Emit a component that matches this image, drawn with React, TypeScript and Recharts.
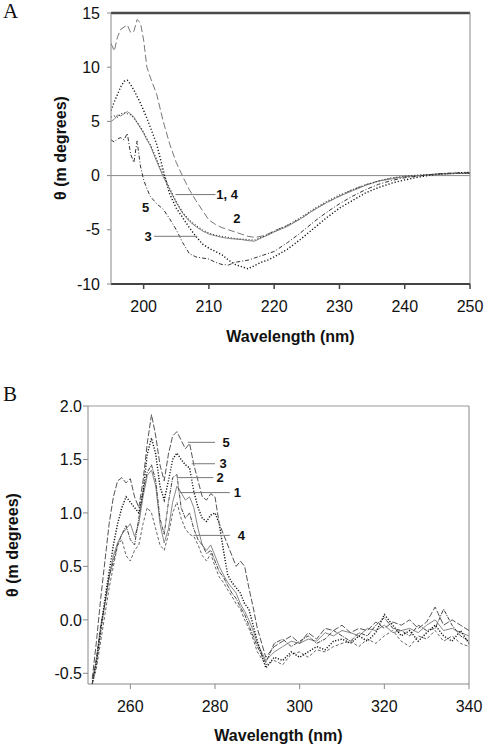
import React from 'react';
import { LineChart, Line, XAxis, YAxis, ReferenceLine, ReferenceDot, Label } from 'recharts';

// Panel A: far-UV CD spectra
const aWavelength = [
  195, 195.5, 196, 196.5, 197, 197.5, 198, 198.5, 199, 199.5, 200, 200.5, 201,
  202, 203, 204, 205, 206, 207, 208, 209, 210, 211, 212, 213, 214, 215, 216, 217, 218, 219, 220,
  222, 224, 226, 228, 230, 232, 234, 236, 238, 240, 242, 244, 246, 248, 250,
];
const aCurve1 = [
  5.0, 5.2, 5.6, 5.5, 5.7, 5.9, 5.7, 5.4, 4.9, 4.4, 3.9, 3.3, 2.8,
  1.3, -0.1, -1.3, -2.5, -3.5, -4.2, -4.7, -5.1, -5.4, -5.55, -5.7, -5.8, -5.85, -5.9, -6.0, -6.05, -5.75, -5.5, -5.2,
  -4.7, -4.0, -3.2, -2.5, -1.9, -1.4, -0.9, -0.5, -0.3, -0.1, 0.0, 0.1, 0.15, 0.2, 0.2,
];
const aCurve2 = [
  12.2, 11.5, 12.8, 13.5, 13.7, 13.9, 13.2, 13.3, 14.4, 14.1, 12.5, 10.0, 9.1,
  7.5, 5.0, 2.9, 1.2, -0.1, -1.3, -2.3, -3.2, -4.1, -4.5, -4.8, -5.0, -5.2, -5.4, -5.6, -5.7, -5.6, -5.4, -5.1,
  -4.6, -4.0, -3.2, -2.5, -1.9, -1.3, -0.85, -0.5, -0.25, -0.1, 0.0, 0.1, 0.2, 0.2, 0.25,
];
const aCurve3 = [
  6.0, 6.8, 7.5, 8.2, 8.7, 8.8, 8.4, 7.9, 7.3, 6.7, 6.0, 5.3, 4.5,
  2.9, 0.5, -1.7, -3.0, -3.9, -4.8, -5.6, -6.3, -6.7, -7.0, -7.3, -7.8, -8.2, -8.4, -8.6, -8.3, -8.0, -7.8, -7.5,
  -6.8, -5.9, -4.9, -3.9, -3.0, -2.3, -1.6, -1.1, -0.7, -0.4, -0.15, 0.05, 0.15, 0.25, 0.3,
];
const aCurve4 = [
  5.4, 5.5, 5.4, 5.7, 5.8, 5.7, 5.6, 5.3, 4.9, 4.5, 4.0, 3.4, 2.9,
  1.5, 0.1, -1.2, -2.4, -3.4, -4.1, -4.6, -5.0, -5.3, -5.5, -5.6, -5.7, -5.8, -5.85, -5.9, -5.95, -5.7, -5.45, -5.15,
  -4.6, -3.9, -3.1, -2.4, -1.8, -1.3, -0.85, -0.5, -0.2, -0.05, 0.05, 0.1, 0.15, 0.2, 0.2,
];
const aCurve5 = [
  3.3, 3.1, 3.4, 3.5, 3.3, 3.9, 2.0, 1.2, 3.2, 0.9, -0.4, -1.2, -1.9,
  -2.6, -3.1, -4.0, -5.0, -6.2, -7.2, -7.5, -7.6, -7.7, -8.0, -8.2, -8.25, -8.0, -7.9, -7.8, -7.6, -7.4, -7.2, -7.0,
  -6.2, -5.3, -4.3, -3.4, -2.6, -1.9, -1.3, -0.8, -0.45, -0.2, -0.05, 0.1, 0.2, 0.25, 0.25,
];
const aXTicks = [200, 210, 220, 230, 240, 250];
const aYTicks = [-10, -5, 0, 5, 10, 15];

// Panel B: near-UV CD spectra
const bWavelength = [
  251, 252, 253, 254, 255, 256, 257, 258, 259, 260, 261, 262, 263, 264, 265, 266, 267, 268, 269, 270,
  271, 272, 273, 274, 275, 276, 277, 278, 279, 280, 281, 282, 283, 284, 285, 286, 287, 288, 289, 290,
  292, 294, 296, 298, 300, 302, 304, 306, 308, 310, 312, 314, 316, 318, 320, 322, 324, 326, 328, 330,
  332, 334, 336, 338, 340,
];
const bCurve1 = [
  -0.55, -0.4, -0.1, 0.15, 0.4, 0.6, 0.72, 0.8, 0.85, 0.9, 0.78, 0.9, 1.15, 1.35, 1.4, 1.25, 0.9, 0.72, 0.85, 1.1,
  1.25, 1.19, 1.12, 1.15, 1.05, 0.85, 0.7, 0.65, 0.7, 0.6, 0.5, 0.42, 0.35, 0.3, 0.25, 0.15, 0.08, 0.0, -0.1, -0.22,
  -0.38, -0.3, -0.25, -0.2, -0.22, -0.18, -0.2, -0.12, -0.15, -0.1, -0.12, -0.15, -0.08, -0.1, -0.05, -0.12, -0.1, -0.08, -0.12, -0.05,
  0.0, -0.1, -0.08, -0.12, -0.15,
];
const bCurve2 = [
  -0.6, -0.35, -0.05, 0.15, 0.4, 0.55, 0.7, 0.8, 0.88, 0.75, 0.7, 0.95, 1.2, 1.38, 1.45, 1.3, 0.95, 0.8, 1.1, 1.33,
  1.36, 1.05, 0.95, 1.0, 0.85, 0.75, 0.7, 0.62, 0.65, 0.55, 0.45, 0.4, 0.32, 0.25, 0.2, 0.12, 0.05, -0.05, -0.15, -0.25,
  -0.4, -0.22, -0.18, -0.25, -0.2, -0.15, -0.22, -0.18, -0.1, -0.15, -0.2, -0.12, -0.15, -0.05, 0.02, -0.08, -0.1, -0.15, -0.05, -0.1,
  -0.08, 0.1, -0.05, -0.15, -0.2,
];
const bCurve3 = [
  -0.6, -0.4, -0.1, 0.2, 0.45, 0.7, 0.9, 1.05, 1.15, 1.1, 1.05, 1.0, 1.2, 1.55, 1.7, 1.55, 1.25, 1.12, 1.3, 1.5,
  1.56, 1.5, 1.45, 1.42, 1.2, 1.05, 0.95, 0.92, 0.98, 1.0, 0.9, 0.65, 0.42, 0.35, 0.3, 0.25, 0.15, 0.1, -0.05, -0.2,
  -0.45, -0.35, -0.38, -0.3, -0.35, -0.3, -0.25, -0.28, -0.2, -0.18, -0.22, -0.15, -0.2, -0.12, 0.05, -0.05, -0.15, -0.1, -0.2, -0.12,
  -0.05, -0.15, -0.2, -0.1, -0.22,
];
const bCurve4 = [
  -0.6, -0.45, -0.2, 0.05, 0.3, 0.5, 0.7, 0.75, 0.6, 0.55, 0.65, 0.7, 0.9, 1.05, 1.0, 0.85, 0.7, 0.65, 0.8, 1.0,
  1.1, 0.95, 0.85, 0.8, 0.78, 0.7, 0.6, 0.55, 0.62, 0.5, 0.4, 0.35, 0.28, 0.22, 0.15, 0.1, 0.0, -0.08, -0.18, -0.3,
  -0.42, -0.38, -0.42, -0.32, -0.3, -0.35, -0.28, -0.3, -0.25, -0.22, -0.2, -0.25, -0.18, -0.22, -0.15, -0.1, -0.2, -0.25, -0.15, -0.18,
  -0.1, -0.2, -0.15, -0.22, -0.25,
];
const bCurve5 = [
  -0.55, -0.2, 0.2, 0.55, 0.9, 1.15, 1.3, 1.33, 1.28, 1.32, 1.15, 1.05, 1.3, 1.65, 1.92, 1.72, 1.45, 1.3, 1.55, 1.72,
  1.76, 1.68, 1.6, 1.65, 1.45, 1.3, 1.15, 1.12, 1.18, 1.15, 0.9, 0.8, 0.7, 0.6, 0.5, 0.55, 0.5, 0.3, 0.12, -0.08,
  -0.35, -0.25, -0.2, -0.15, -0.22, -0.12, -0.18, -0.08, -0.1, -0.05, -0.12, -0.08, -0.1, -0.02, -0.08, -0.02, -0.05, 0.0, -0.08, -0.02,
  0.12, -0.05, 0.0, -0.05, -0.1,
];
const bXTicks = [260, 280, 300, 320, 340];
const bYTicks = [-0.5, 0, 0.5, 1.0, 1.5, 2.0];

// curve labels with leader lines (data units)
const aLabels = [
  { text: '1, 4', x: 212.8, y: -1.75, from: 204.9, to: 211.0 },
  { text: '2', x: 214.3, y: -3.95 },
  { text: '5', x: 200.3, y: -2.95 },
  { text: '3', x: 200.7, y: -5.6, from: 201.6, to: 208.2 },
];
const bLabels = [
  { text: '5', x: 282.6, y: 1.66, from: 273.6, to: 280.0 },
  { text: '3', x: 281.9, y: 1.46, from: 274.5, to: 280.0 },
  { text: '2', x: 281.2, y: 1.33, from: 271.0, to: 279.6 },
  { text: '1', x: 285.3, y: 1.19, from: 271.7, to: 283.5 },
  { text: '4', x: 286.2, y: 0.79, from: 274.9, to: 283.5 },
];

const tableA = aWavelength.map((w, i) => ({
  w, c1: aCurve1[i], c2: aCurve2[i], c3: aCurve3[i], c4: aCurve4[i], c5: aCurve5[i],
}));
const tableB = bWavelength.map((w, i) => ({
  w, c1: bCurve1[i], c2: bCurve2[i], c3: bCurve3[i], c4: bCurve4[i], c5: bCurve5[i],
}));

const FONT = 'Liberation Sans, Arial, sans-serif';
const tickStyle = { fill: '#111', fontSize: 16, fontFamily: FONT };
const labelStyle = { fill: '#111', fontSize: 13, fontWeight: 700, fontFamily: FONT };

function xTitle(x: number, y: number) {
  return () => (
    <text x={x} y={y} textAnchor="middle" fontSize={16} fontWeight={700} fontFamily={FONT} fill="#111">
      Wavelength (nm)
    </text>
  );
}

function yTitle(x: number, y: number) {
  return () => (
    <text
      x={x}
      y={y}
      textAnchor="middle"
      dominantBaseline="central"
      transform={`rotate(-90, ${x}, ${y})`}
      fontSize={16}
      fontWeight={700}
      fontFamily={FONT}
      fill="#111"
    >
      θ (m degrees)
    </text>
  );
}

function renderLabels(list: typeof bLabels) {
  return list.flatMap((l) => {
    const out = [];
    if (l.from !== undefined && l.to !== undefined) {
      out.push(
        <ReferenceLine
          key={l.text + '-line'}
          segment={[{ x: l.from, y: l.y }, { x: l.to, y: l.y }]}
          stroke="#777"
          strokeWidth={1}
        />
      );
    }
    out.push(
      <ReferenceDot
        key={l.text + '-dot'}
        x={l.x}
        y={l.y}
        r={0}
        fill="none"
        stroke="none"
        label={{ value: l.text, position: 'center', ...labelStyle }}
      />
    );
    return out;
  });
}

const letterStyle: React.CSSProperties = {
  position: 'absolute',
  left: 3,
  fontFamily: 'Liberation Serif, Times New Roman, serif',
  fontSize: 21,
  color: '#111',
  lineHeight: 1,
};

export default function App() {
  return (
    <div style={{ position: 'absolute', left: 0, top: 0, width: 488, height: 748, background: '#fff' }}>
      <div style={{ ...letterStyle, top: 1 }}>A</div>
      <div style={{ ...letterStyle, top: 384 }}>B</div>

      <div style={{ position: 'absolute', left: 0, top: 0 }}>
        <LineChart width={488} height={370} data={tableA} margin={{ top: 13, right: 18, left: 51, bottom: 26 }}>
          <XAxis
            type="number"
            dataKey="w"
            domain={[195, 250]}
            ticks={aXTicks}
            allowDataOverflow
            height={60}
            tick={tickStyle}
            tickSize={5}
            tickMargin={12}
            axisLine={{ stroke: '#444', strokeWidth: 2 }}
            tickLine={{ stroke: '#444', strokeWidth: 1.5 }}
          >
            <Label content={xTitle(290.5, 342)} />
          </XAxis>
          <YAxis
            type="number"
            domain={[-10, 15]}
            ticks={aYTicks}
            allowDataOverflow
            width={60}
            tick={tickStyle}
            tickSize={4}
            tickMargin={7}
            axisLine={{ stroke: '#888' }}
            tickLine={{ stroke: '#888' }}
          >
            <Label content={yTitle(60, 148)} />
          </YAxis>
          <ReferenceLine y={15} stroke="#4a4a4a" strokeWidth={2.5} />
          <ReferenceLine x={250} stroke="#888" strokeWidth={1} />
          <ReferenceLine y={0} stroke="#888" strokeWidth={1} />
          <Line dataKey="c2" stroke="#777" strokeWidth={1} strokeDasharray="7 3" dot={false} isAnimationActive={false} />
          <Line dataKey="c3" stroke="#111" strokeWidth={1.4} strokeDasharray="1.2 2" dot={false} isAnimationActive={false} />
          <Line dataKey="c1" stroke="#888" strokeWidth={1} dot={false} isAnimationActive={false} />
          <Line dataKey="c4" stroke="#333" strokeWidth={1.1} strokeDasharray="1 2" dot={false} isAnimationActive={false} />
          <Line dataKey="c5" stroke="#333" strokeWidth={1} strokeDasharray="4 2 1 2" dot={false} isAnimationActive={false} />
          {renderLabels(aLabels)}
        </LineChart>
      </div>

      <div style={{ position: 'absolute', left: 0, top: 380 }}>
        <LineChart width={488} height={368} data={tableB} margin={{ top: 26, right: 19, left: 28, bottom: 4 }}>
          <XAxis
            type="number"
            dataKey="w"
            domain={[250, 340]}
            ticks={bXTicks}
            allowDataOverflow
            height={60}
            tick={tickStyle}
            tickSize={5}
            tickMargin={12}
            axisLine={{ stroke: '#888' }}
            tickLine={{ stroke: '#888' }}
          >
            <Label content={xTitle(278.5, 361)} />
          </XAxis>
          <YAxis
            type="number"
            domain={[-0.6, 2.0]}
            ticks={bYTicks}
            allowDataOverflow
            width={60}
            tick={tickStyle}
            tickSize={5}
            tickMargin={1}
            tickFormatter={(v: number) => v.toFixed(1)}
            axisLine={{ stroke: '#888' }}
            tickLine={{ stroke: '#888' }}
          >
            <Label content={yTitle(12, 165)} />
          </YAxis>
          <ReferenceLine y={2.0} stroke="#999" strokeWidth={1} />
          <ReferenceLine x={340} stroke="#888" strokeWidth={1} />
          <Line dataKey="c4" stroke="#666" strokeWidth={1} strokeDasharray="3 2" dot={false} isAnimationActive={false} />
          <Line dataKey="c1" stroke="#888" strokeWidth={1} dot={false} isAnimationActive={false} />
          <Line dataKey="c2" stroke="#444" strokeWidth={1} strokeDasharray="4 1 1 1" dot={false} isAnimationActive={false} />
          <Line dataKey="c3" stroke="#111" strokeWidth={1.4} strokeDasharray="1.2 1.6" dot={false} isAnimationActive={false} />
          <Line dataKey="c5" stroke="#555" strokeWidth={1} strokeDasharray="6 2" dot={false} isAnimationActive={false} />
          {renderLabels(bLabels)}
        </LineChart>
      </div>
    </div>
  );
}
